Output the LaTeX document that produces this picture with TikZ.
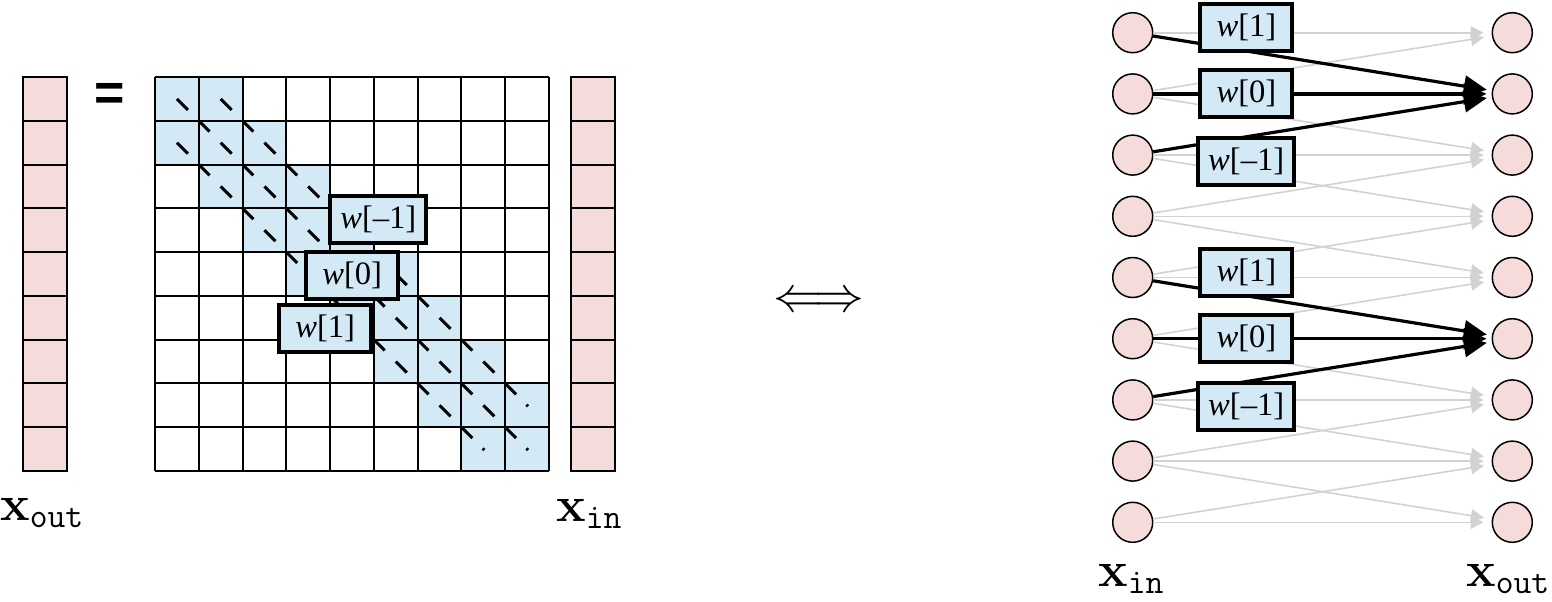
\documentclass[tikz,border=0pt]{standalone}
\usepackage[no-math]{fontspec}
\setmainfont{Liberation Serif}
\newfontfamily\eqfont{Liberation Sans}
\usetikzlibrary{arrows.meta}
\definecolor{pinkc}{RGB}{246,219,219}
\definecolor{bluec}{RGB}{212,233,246}
\definecolor{grayc}{RGB}{210,210,210}
\begin{document}
\begin{tikzpicture}[x=0.5pt,y=-0.5pt,
  wbox/.style={draw=black, line width=2pt, fill=bluec, minimum width=46pt, minimum height=23.5pt, inner xsep=5pt, inner ysep=0pt, font=\fontsize{16.3}{18}\selectfont},
  vcell/.style={draw=black, line width=1pt, fill=pinkc},
  gridline/.style={draw=black, line width=1pt},
  neuron/.style={circle, draw=black, line width=0.75pt, fill=pinkc, minimum size=20pt, inner sep=0pt},
  garrow/.style={draw=grayc, line width=0.8pt, -{Triangle[length=6.5pt,width=6.5pt]}, shorten >=4pt},
  barrow/.style={draw=black, line width=1.6pt, -{Triangle[length=11.5pt,width=10.5pt]}, shorten >=2.5pt},
  dashseg/.style={draw=black, line width=1.5pt},
  lbl/.style={inner sep=0pt, anchor=base west, font=\fontsize{23.5}{26}\selectfont},
]
\useasboundingbox (0,0) rectangle (1552,601);

% ---------- left: matrix form ----------
% band fill
\foreach \r in {0,...,8}{
  \foreach \c in {0,...,8}{
    \pgfmathtruncatemacro\dd{abs(\r-\c)}
    \ifnum\dd<2
      \fill[bluec] ({155+43.78*\c},{77+43.78*\r}) rectangle ++(43.78,43.78);
    \fi
  }
}
% grid
\foreach \i in {0,...,9}{
  \draw[gridline] ({155+43.78*\i},77) -- ({155+43.78*\i},471);
  \draw[gridline] (155,{77+43.78*\i}) -- (549,{77+43.78*\i});
}
% dashes on the band
\foreach \r in {0,...,8}{
  \foreach \c in {0,...,8}{
    \pgfmathtruncatemacro\dd{abs(\r-\c)}
    \pgfmathtruncatemacro\sm{\r+\c}
    \pgfmathsetmacro\X{155+43.78*\c}
    \pgfmathsetmacro\Y{77+43.78*\r}
    \ifnum\dd<2
      \ifnum\r>0 \ifnum\c>0
        \draw[dashseg] (\X,\Y) -- ++(10.8,10.8);
      \fi\fi
      \ifnum\sm>14
        \draw[dashseg] ({\X+21.2},{\Y+21.2}) -- ++(1.6,1.6);
      \else
        \draw[dashseg] ({\X+21.9},{\Y+21.9}) -- ++(11,11);
      \fi
    \fi
  }
}
% vectors
\foreach \r in {0,...,8}{
  \draw[vcell] (23,{77+43.78*\r}) rectangle (67,{77+43.78*(\r+1)});
  \draw[vcell] (571,{77+43.78*\r}) rectangle (615,{77+43.78*(\r+1)});
}
\node[inner sep=0pt, font=\eqfont\bfseries\fontsize{26}{30}\selectfont] (eq) at (110,97) {=};
\node[wbox] (lwm) at (378.3,219.5) {\textit{w}[–1]};
\node[wbox] (lwz) at (352.2,275.2) {\textit{w}[0]};
\node[wbox] (lwp) at (325.2,328.3) {\textit{w}[1]};
\node[lbl] (lxout) at (0,520) {$\mathbf{x}_{\mathtt{out}}$};
\node[lbl] (lxin) at (556,521) {$\mathbf{x}_{\mathtt{in}}$};

% ---------- middle ----------
\node[inner sep=0pt] (iff) at (819,302) {\fontsize{23}{26}\selectfont$\Longleftrightarrow$};

% ---------- right: network form ----------
\foreach \k in {0,...,8}{
  \node[neuron] (i\k) at (1132.7,{32.7+61.2*\k}) {};
  \node[neuron] (o\k) at (1512.3,{32.7+61.2*\k}) {};
}
\foreach \k in {0,...,8}{
  \foreach \d in {-1,0,1}{
    \pgfmathtruncatemacro\j{\k+\d}
    \pgfmathtruncatemacro\ok{(\j>=0)&&(\j<=8)&&!(\j==1&&\k<=2)&&!(\j==5&&\k>=4&&\k<=6)}
    \ifnum\ok=1
      \draw[garrow] (i\k) -- (o\j);
    \fi
  }
}
\draw[barrow] (i0) -- (o1);
\draw[barrow] (i1) -- (o1);
\draw[barrow] (i2) -- (o1);
\draw[barrow] (i4) -- (o5);
\draw[barrow] (i5) -- (o5);
\draw[barrow] (i6) -- (o5);
\node[wbox] (rwp1) at (1246.4,27.5) {\textit{w}[1]};
\node[wbox] (rwz1) at (1246.4,93.8) {\textit{w}[0]};
\node[wbox] (rwm1) at (1246.2,161.2) {\textit{w}[–1]};
\node[wbox] (rwp2) at (1246.4,272.4) {\textit{w}[1]};
\node[wbox] (rwz2) at (1246.4,338.5) {\textit{w}[0]};
\node[wbox] (rwm2) at (1246.2,406.1) {\textit{w}[–1]};
\node[lbl] (rxin) at (1098,586) {$\mathbf{x}_{\mathtt{in}}$};
\node[lbl] (rxout) at (1466,586) {$\mathbf{x}_{\mathtt{out}}$};
\end{tikzpicture}
\end{document}
